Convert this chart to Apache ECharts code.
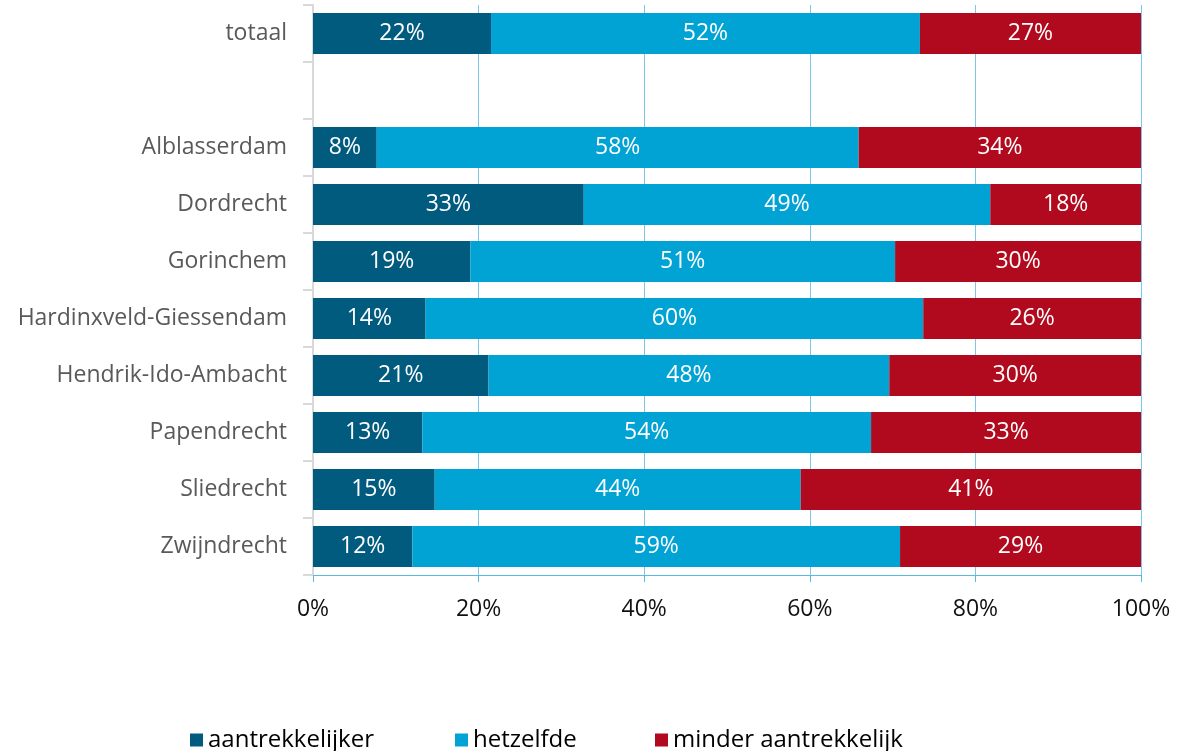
<!DOCTYPE html>
<html>
<head>
<meta charset="utf-8">
<script src="https://cdn.jsdelivr.net/npm/echarts@6/dist/echarts.min.js"></script>
<style>
  html, body { margin: 0; padding: 0; background: #fff; }
  #chart { width: 1191px; height: 751px; }
</style>
</head>
<body>
<div id="chart"></div>
<script>
// Rows top to bottom; the empty entry leaves a gap under the total.
const categories = ['totaal', '', 'Alblasserdam', 'Dordrecht', 'Gorinchem',
  'Hardinxveld-Giessendam', 'Hendrik-Ido-Ambacht', 'Papendrecht', 'Sliedrecht', 'Zwijndrecht'];

const aantrekkelijker      = [21.5, null,  7.7, 32.7, 19.0, 13.6, 21.2, 13.2, 14.7, 12.0];
const hetzelfde            = [51.8, null, 58.2, 49.1, 51.3, 60.1, 48.4, 54.2, 44.2, 58.9];
const minderAantrekkelijk  = [26.7, null, 34.1, 18.2, 29.7, 26.3, 30.4, 32.6, 41.1, 29.1];

const seriesNames = ['aantrekkelijker', 'hetzelfde', 'minder aantrekkelijk'];
const seriesColors = ['#005B7F', '#00A3D4', '#B1091D'];
const xTicks = [0, 20, 40, 60, 80, 100];

const fontFamily = '"Open Sans", Lato, sans-serif';
const legendLeft = [190, 455, 655];

function makeSeries(name, data, color) {
  return {
    name: name,
    type: 'bar',
    stack: 'total',
    data: data,
    barWidth: 41,
    itemStyle: { color: color },
    label: {
      show: true,
      position: 'inside',
      color: '#fff',
      fontSize: 23,
      fontFamily: fontFamily,
      padding: [5, 0, 0, 0],
      formatter: p => (p.value == null ? '' : Math.round(p.value) + '%')
    }
  };
}

// One legend block per series so each entry sits at its own offset.
const legends = seriesNames.map((name, i) => ({
  top: 728,
  left: legendLeft[i],
  padding: 0,
  itemWidth: 13,
  itemHeight: 13,
  itemGap: 0,
  icon: 'rect',
  textStyle: { fontSize: 24, fontFamily: fontFamily, color: '#000' },
  data: [name]
}));

const chart = echarts.init(document.getElementById('chart'), null, { renderer: 'canvas' });
chart.setOption({
  animation: false,
  grid: { left: 313, right: 50, top: 5, bottom: 176, containLabel: false },
  legend: legends,
  xAxis: {
    type: 'value',
    min: 0,
    max: 100,
    interval: 20,
    axisLine: { show: true, lineStyle: { color: '#5CB8E0', width: 1 } },
    axisTick: { show: true, length: 7, lineStyle: { color: '#5CB8E0' } },
    splitLine: { show: true, lineStyle: { color: '#7CC6E6', width: 1 } },
    axisLabel: {
      margin: 23,
      fontSize: 23,
      fontFamily: fontFamily,
      color: '#111',
      customValues: xTicks,
      formatter: v => v + '%'
    }
  },
  yAxis: {
    type: 'category',
    inverse: true,
    data: categories,
    axisLine: { show: true, lineStyle: { color: '#D9D9D9', width: 2 } },
    axisTick: { show: true, length: 10, lineStyle: { color: '#D9D9D9', width: 2 } },
    axisLabel: { margin: 26, fontSize: 23, fontFamily: fontFamily, color: '#595959', padding: [6, 0, 0, 0] }
  },
  series: [
    makeSeries(seriesNames[0], aantrekkelijker, seriesColors[0]),
    makeSeries(seriesNames[1], hetzelfde, seriesColors[1]),
    makeSeries(seriesNames[2], minderAantrekkelijk, seriesColors[2])
  ]
});
</script>
</body>
</html>
